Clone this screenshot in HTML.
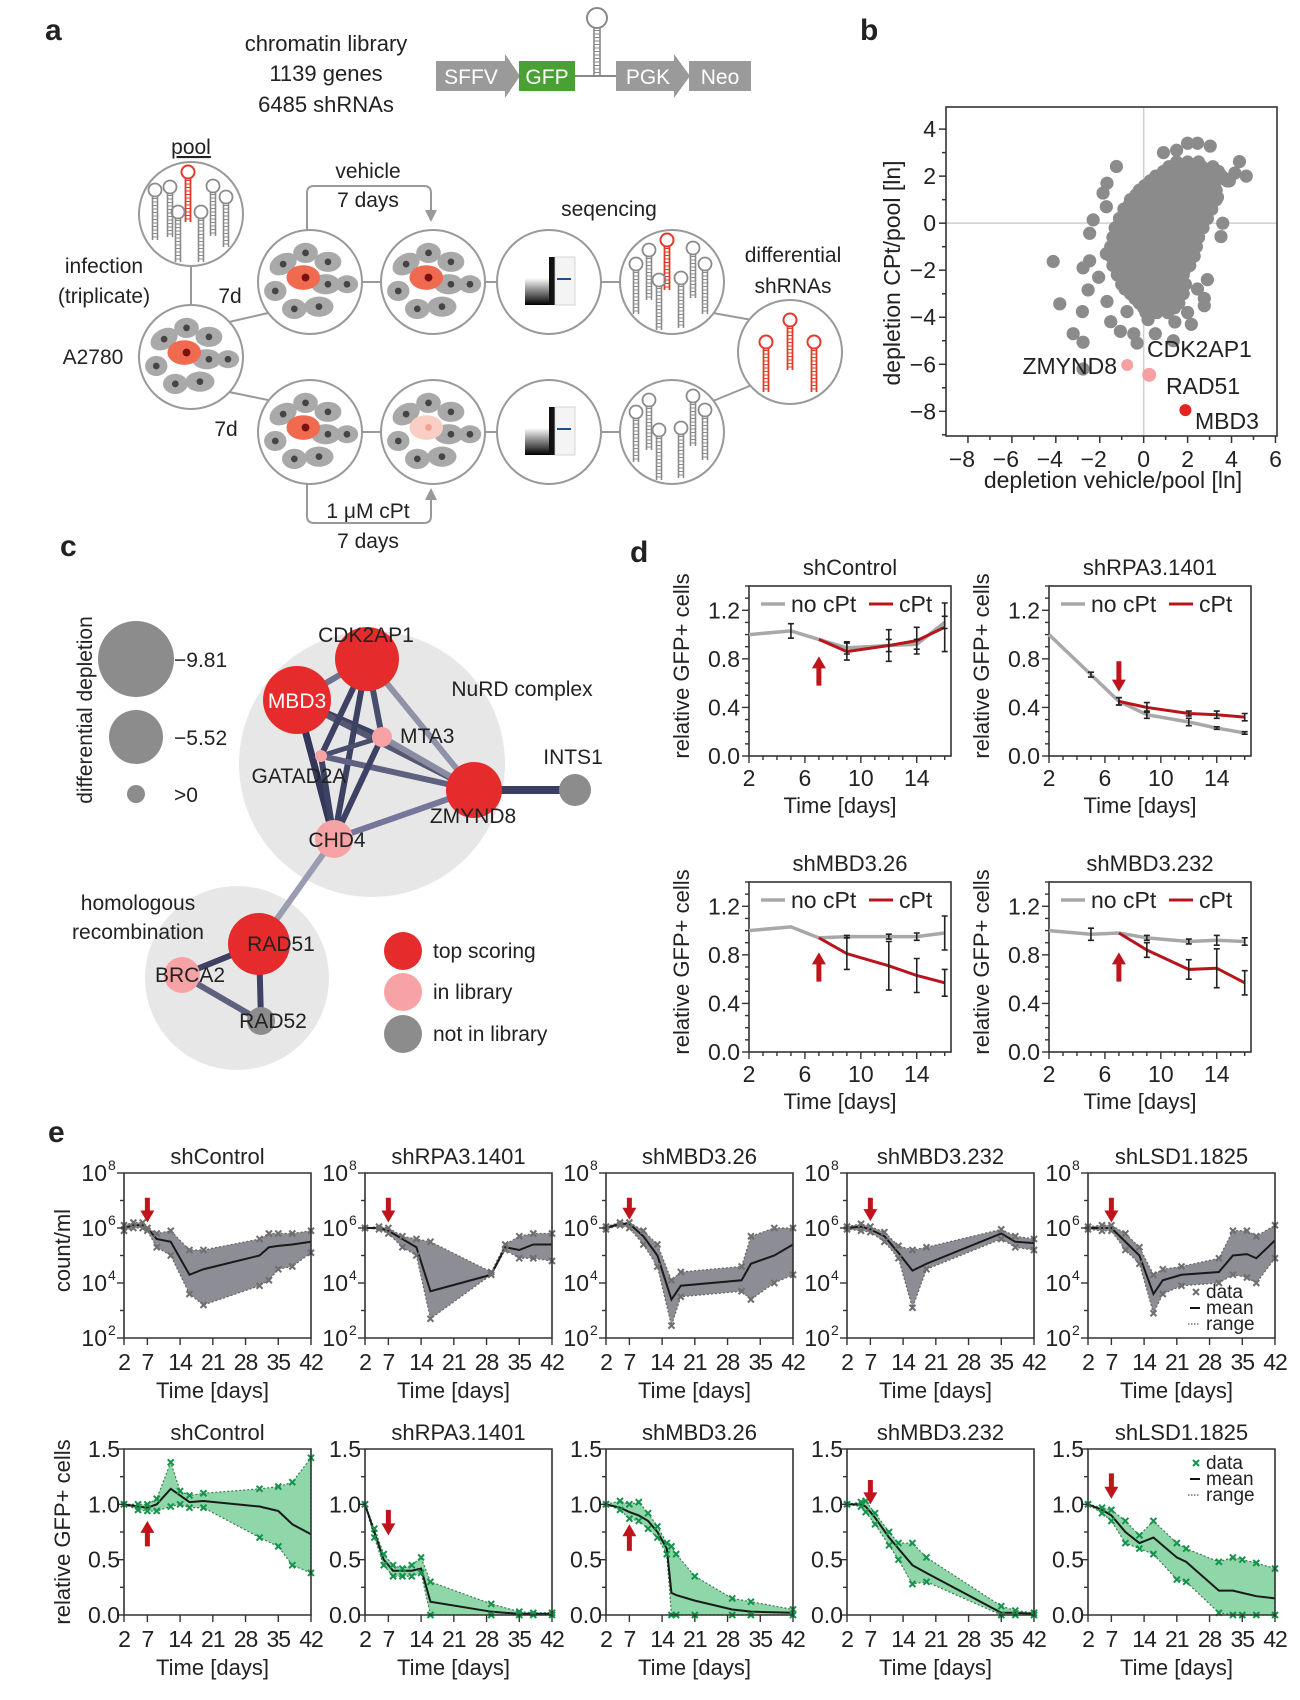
<!DOCTYPE html>
<html><head><meta charset="utf-8"><title>Figure</title>
<style>
html,body{margin:0;padding:0;background:#fff;}
svg{display:block;font-family:"Liberation Sans",Arial,sans-serif;}
text{fill:#222;}
</style></head>
<body>
<svg id="fig" xmlns="http://www.w3.org/2000/svg" width="1300" height="1700" viewBox="0 0 1300 1700">
<defs>
  <g id="cells">
    <ellipse cx="-24" cy="-16" rx="13" ry="9" fill="#a9a9a9" transform="rotate(-30 -24 -16)"/>
    <ellipse cx="-4" cy="-26" rx="11" ry="9" fill="#a9a9a9"/>
    <ellipse cx="16" cy="-18" rx="12" ry="9" fill="#a9a9a9"/>
    <ellipse cx="-31" cy="8" rx="10" ry="9" fill="#a9a9a9"/>
    <ellipse cx="14" cy="2" rx="13" ry="9" fill="#a9a9a9"/>
    <ellipse cx="33" cy="2" rx="10" ry="8" fill="#a9a9a9"/>
    <ellipse cx="-14" cy="24" rx="11" ry="9" fill="#a9a9a9"/>
    <ellipse cx="8" cy="22" rx="13" ry="9" fill="#a9a9a9"/>
    <circle cx="-24" cy="-16" r="3" fill="#444"/><circle cx="-4" cy="-26" r="3" fill="#444"/>
    <circle cx="16" cy="-18" r="3" fill="#444"/><circle cx="-31" cy="8" r="3" fill="#444"/>
    <circle cx="16" cy="2" r="3" fill="#444"/><circle cx="33" cy="2" r="3" fill="#444"/>
    <circle cx="-14" cy="24" r="3" fill="#444"/><circle cx="8" cy="22" r="3" fill="#444"/>
  </g>
  <g id="cellsred"><use href="#cells"/><ellipse cx="-6" cy="-4" rx="15" ry="11" fill="#f06a50"/><circle cx="-4" cy="-4" r="3.5" fill="#7a1010"/></g>
  <g id="cellsfade"><use href="#cells"/><ellipse cx="-6" cy="-4" rx="15" ry="11" fill="#f9cfc5"/><circle cx="-4" cy="-4" r="3" fill="#f3a090"/></g>
  <g id="hp"><circle cx="0" cy="-28" r="6.5" fill="none" stroke="#8a8a8a" stroke-width="1.8"/><path d="M-2.5 -22 V22 M2.5 -22 V22" stroke="#8a8a8a" stroke-width="1.6"/><line x1="0" y1="-20" x2="0" y2="22" stroke="#8a8a8a" stroke-width="5" stroke-dasharray="1 2.5"/></g>
  <g id="hpr"><circle cx="0" cy="-28" r="6.5" fill="none" stroke="#e03a2c" stroke-width="2"/><path d="M-2.5 -22 V22 M2.5 -22 V22" stroke="#e03a2c" stroke-width="1.8"/><line x1="0" y1="-20" x2="0" y2="22" stroke="#e03a2c" stroke-width="5" stroke-dasharray="1 2.5"/></g>
  <linearGradient id="seqg" x1="0" y1="0" x2="0" y2="1"><stop offset="0" stop-color="#fff"/><stop offset="1" stop-color="#000"/></linearGradient>
  <g id="seq">
    <rect x="-26" y="-25" width="52" height="48" fill="#fff"/>
    <rect x="-24" y="-4" width="26" height="27" fill="url(#seqg)"/>
    <rect x="0" y="-25" width="6" height="48" fill="#111"/>
    <rect x="6" y="-25" width="20" height="48" fill="#f4f4f4" stroke="#ccc" stroke-width="0.8"/>
    <line x1="8" y1="-3" x2="22" y2="-3" stroke="#1b4f8a" stroke-width="2"/>
  </g>
</defs>

<!-- ============ PANEL A ============ -->
<g>
  <text x="45" y="40" font-size="30" font-weight="bold">a</text>
  <text x="326" y="51" font-size="22" text-anchor="middle">chromatin library</text>
  <text x="326" y="81" font-size="22" text-anchor="middle">1139 genes</text>
  <text x="326" y="112" font-size="22" text-anchor="middle">6485 shRNAs</text>
  <g>
    <path d="M436 61 H505 V54 L520 76 L505 98 V91 H436 Z" fill="#9a9a9a"/>
    <text x="471" y="84" font-size="21" text-anchor="middle" style="fill:#fff">SFFV</text>
    <rect x="519" y="61" width="56" height="30" fill="#4aa133"/>
    <text x="547" y="84" font-size="21" text-anchor="middle" style="fill:#fff">GFP</text>
    <line x1="575" y1="76" x2="616" y2="76" stroke="#888" stroke-width="2"/>
    <g transform="translate(597 52)"><circle cx="0" cy="-34" r="10" fill="none" stroke="#888" stroke-width="2"/><path d="M-3 -24 V24 M3 -24 V24" stroke="#888" stroke-width="1.6"/><line x1="0" y1="-22" x2="0" y2="24" stroke="#888" stroke-width="6" stroke-dasharray="1 2.5"/></g>
    <path d="M616 61 H674 V54 L690 76 L674 98 V91 H616 Z" fill="#9a9a9a"/>
    <text x="648" y="84" font-size="21" text-anchor="middle" style="fill:#fff">PGK</text>
    <rect x="689" y="61" width="62" height="30" fill="#9a9a9a"/>
    <text x="720" y="84" font-size="21" text-anchor="middle" style="fill:#fff">Neo</text>
  </g>
  <g stroke="#999" stroke-width="2" fill="none">
    <line x1="191" y1="267" x2="191" y2="305"/>
    <line x1="229" y1="322" x2="268" y2="313"/>
    <line x1="229" y1="392" x2="268" y2="400"/>
    <line x1="362" y1="282" x2="381" y2="282"/><line x1="485" y1="282" x2="497" y2="282"/><line x1="601" y1="282" x2="620" y2="282"/>
    <line x1="362" y1="432" x2="381" y2="432"/><line x1="485" y1="432" x2="497" y2="432"/><line x1="601" y1="432" x2="620" y2="432"/>
    <line x1="713" y1="313" x2="752" y2="320"/>
    <line x1="713" y1="401" x2="752" y2="385"/>
    <path d="M307 230 V193 Q307 186 314 186 H424 Q431 186 431 193 V212"/>
    <path d="M307 484 V516 Q307 523 314 523 H424 Q431 523 431 516 V498"/>
  </g>
  <path d="M425 210 L437 210 L431 222 Z" fill="#999"/>
  <path d="M425 500 L437 500 L431 488 Z" fill="#999"/>
  <g fill="#fff" stroke="#999" stroke-width="2">
    <circle cx="191" cy="214" r="52"/><circle cx="191" cy="357" r="52"/>
    <circle cx="310" cy="282" r="52"/><circle cx="433" cy="282" r="52"/><circle cx="549" cy="282" r="52"/><circle cx="672" cy="282" r="52"/>
    <circle cx="310" cy="432" r="52"/><circle cx="433" cy="432" r="52"/><circle cx="549" cy="432" r="52"/><circle cx="672" cy="432" r="52"/>
    <circle cx="790" cy="352" r="52"/>
  </g>
  <g>
    <use href="#hp" x="155" y="218"/><use href="#hp" x="170" y="215"/><use href="#hpr" x="188" y="200"/><use href="#hp" x="178" y="240"/><use href="#hp" x="201" y="240"/><use href="#hp" x="213" y="214"/><use href="#hp" x="226" y="225"/>
  </g>
  <use href="#cellsred" transform="translate(191 357) scale(1.12)"/>
  <use href="#cellsred" transform="translate(310 282) scale(1.12)"/>
  <use href="#cellsred" transform="translate(433 282) scale(1.12)"/>
  <use href="#cellsred" transform="translate(310 432) scale(1.12)"/>
  <use href="#cellsfade" transform="translate(433 432) scale(1.12)"/>
  <use href="#seq" x="549" y="282"/>
  <use href="#seq" x="549" y="432"/>
  <g>
    <use href="#hp" x="636" y="292"/><use href="#hp" x="649" y="278"/><use href="#hpr" x="667" y="268"/><use href="#hp" x="659" y="308"/><use href="#hp" x="681" y="306"/><use href="#hp" x="693" y="276"/><use href="#hp" x="705" y="292"/>
  </g>
  <g>
    <use href="#hp" x="636" y="440"/><use href="#hp" x="649" y="428"/><use href="#hp" x="693" y="424"/><use href="#hp" x="659" y="458"/><use href="#hp" x="681" y="456"/><use href="#hp" x="705" y="438"/>
  </g>
  <g>
    <use href="#hpr" x="766" y="370"/><use href="#hpr" x="790" y="348"/><use href="#hpr" x="814" y="370"/>
  </g>
  <text x="191" y="154" font-size="21" text-anchor="middle" text-decoration="underline">pool</text>
  <text x="104" y="273" font-size="21" text-anchor="middle">infection</text>
  <text x="104" y="303" font-size="21" text-anchor="middle">(triplicate)</text>
  <text x="93" y="364" font-size="21" text-anchor="middle">A2780</text>
  <text x="230" y="303" font-size="21" text-anchor="middle">7d</text>
  <text x="226" y="436" font-size="21" text-anchor="middle">7d</text>
  <text x="368" y="178" font-size="21" text-anchor="middle">vehicle</text>
  <text x="368" y="207" font-size="21" text-anchor="middle">7 days</text>
  <text x="609" y="216" font-size="21" text-anchor="middle">seqencing</text>
  <text x="793" y="262" font-size="21" text-anchor="middle">differential</text>
  <text x="793" y="293" font-size="21" text-anchor="middle">shRNAs</text>
  <text x="368" y="518" font-size="21" text-anchor="middle">1 μM cPt</text>
  <text x="368" y="548" font-size="21" text-anchor="middle">7 days</text>
</g>

<!-- ============ PANEL C ============ -->
<g>
  <text x="60" y="556" font-size="30" font-weight="bold">c</text>
  <circle cx="372" cy="764" r="133" fill="#e8e7e7"/>
  <circle cx="237" cy="978" r="92" fill="#e8e7e7"/>
  <g stroke-linecap="round">
    <line x1="297" y1="700" x2="367" y2="659" stroke="#6e7190" stroke-width="6"/>
    <line x1="297" y1="700" x2="334" y2="839" stroke="#33375a" stroke-width="7"/>
    <line x1="297" y1="700" x2="382" y2="737" stroke="#3d4163" stroke-width="6"/>
    <line x1="297" y1="700" x2="474" y2="790" stroke="#555873" stroke-width="6"/>
    <line x1="367" y1="659" x2="334" y2="839" stroke="#3d4163" stroke-width="6"/>
    <line x1="367" y1="659" x2="321" y2="756" stroke="#3d4163" stroke-width="6"/>
    <line x1="367" y1="659" x2="382" y2="737" stroke="#4a4e6d" stroke-width="6"/>
    <line x1="367" y1="659" x2="474" y2="790" stroke="#9092a8" stroke-width="6"/>
    <line x1="321" y1="756" x2="382" y2="737" stroke="#4a4e6d" stroke-width="5"/>
    <line x1="321" y1="756" x2="474" y2="790" stroke="#5e6180" stroke-width="6"/>
    <line x1="382" y1="737" x2="474" y2="790" stroke="#8a8ca3" stroke-width="6"/>
    <line x1="382" y1="737" x2="334" y2="839" stroke="#3d4163" stroke-width="6"/>
    <line x1="321" y1="756" x2="334" y2="839" stroke="#3d4163" stroke-width="6"/>
    <line x1="474" y1="790" x2="334" y2="839" stroke="#74779a" stroke-width="6"/>
    <line x1="474" y1="790" x2="575" y2="790" stroke="#3a3e60" stroke-width="8"/>
    <line x1="334" y1="839" x2="259" y2="944" stroke="#9a9cb2" stroke-width="6"/>
    <line x1="259" y1="944" x2="182" y2="975" stroke="#3d4163" stroke-width="6"/>
    <line x1="259" y1="944" x2="261" y2="1021" stroke="#3d4163" stroke-width="6"/>
    <line x1="182" y1="975" x2="261" y2="1021" stroke="#5e6180" stroke-width="6"/>
  </g>
  <circle cx="367" cy="659" r="32" fill="#e52b2b"/>
  <circle cx="297" cy="700" r="34" fill="#e52b2b"/>
  <circle cx="382" cy="737" r="10" fill="#f7a3a6"/>
  <circle cx="321" cy="756" r="6" fill="#f7a3a6"/>
  <circle cx="474" cy="790" r="28" fill="#e52b2b"/>
  <circle cx="575" cy="790" r="16" fill="#8c8c8c"/>
  <circle cx="334" cy="839" r="19" fill="#f7a3a6"/>
  <circle cx="259" cy="944" r="31" fill="#e52b2b"/>
  <circle cx="182" cy="975" r="18" fill="#f7a3a6"/>
  <circle cx="261" cy="1021" r="14" fill="#8c8c8c"/>
  <g font-size="21">
    <text x="366" y="642" text-anchor="middle">CDK2AP1</text>
    <text x="297" y="708" text-anchor="middle" style="fill:#fff">MBD3</text>
    <text x="400" y="743">MTA3</text>
    <text x="299" y="783" text-anchor="middle">GATAD2A</text>
    <text x="473" y="823" text-anchor="middle">ZMYND8</text>
    <text x="573" y="764" text-anchor="middle">INTS1</text>
    <text x="337" y="847" text-anchor="middle">CHD4</text>
    <text x="522" y="696" text-anchor="middle">NuRD complex</text>
    <text x="138" y="910" text-anchor="middle">homologous</text>
    <text x="138" y="939" text-anchor="middle">recombination</text>
    <text x="281" y="951" text-anchor="middle">RAD51</text>
    <text x="190" y="982" text-anchor="middle">BRCA2</text>
    <text x="273" y="1028" text-anchor="middle">RAD52</text>
  </g>
  <g>
    <text transform="translate(92 710) rotate(-90)" font-size="21" text-anchor="middle">differential depletion</text>
    <circle cx="136" cy="659" r="38" fill="#8c8c8c"/><text x="174" y="667" font-size="21">−9.81</text>
    <circle cx="136" cy="737" r="27" fill="#8c8c8c"/><text x="174" y="745" font-size="21">−5.52</text>
    <circle cx="136" cy="794" r="9" fill="#8c8c8c"/><text x="174" y="802" font-size="21">&gt;0</text>
  </g>
  <g>
    <circle cx="403" cy="951" r="19" fill="#e52b2b"/><text x="433" y="958" font-size="21">top scoring</text>
    <circle cx="403" cy="992" r="19" fill="#f7a3a6"/><text x="433" y="999" font-size="21">in library</text>
    <circle cx="403" cy="1034" r="19" fill="#8c8c8c"/><text x="433" y="1041" font-size="21">not in library</text>
  </g>
</g>

<text x="860" y="40" font-size="30" font-weight="bold">b</text>
<text x="630" y="562" font-size="30" font-weight="bold">d</text>
<text x="48" y="1142" font-size="30" font-weight="bold">e</text>
<g id="charts"></g>
</svg>

<script>
// ---------- Panel b data ----------
const scatterX = [
1.5,2.0,2.5,
0.9,1.4,1.9,2.4,2.9,3.4,
0.3,0.8,1.3,1.8,2.3,2.8,3.3,3.8,
-0.2,0.3,0.8,1.3,1.8,2.3,2.8,3.3,
-0.6,-0.1,0.4,0.9,1.4,1.9,2.4,2.9,3.3,
-0.9,-0.4,0.1,0.6,1.1,1.6,2.1,2.6,3.1,
-1.1,-0.6,-0.1,0.4,0.9,1.4,1.9,2.4,2.9,
-1.3,-0.8,-0.3,0.2,0.7,1.2,1.7,2.2,2.7,
-1.4,-0.9,-0.4,0.1,0.6,1.1,1.6,2.1,2.5,
-1.5,-1.0,-0.5,0.0,0.5,1.0,1.5,2.0,2.4,
-1.5,-1.0,-0.5,0.0,0.5,1.0,1.5,2.0,2.3,
-1.4,-0.9,-0.4,0.1,0.6,1.1,1.6,2.1,
-1.2,-0.7,-0.2,0.3,0.8,1.3,1.8,
-1.0,-0.5,0.0,0.5,1.0,1.5,1.9,
-0.6,-0.1,0.4,0.9,1.4,1.8,
-0.2,0.3,0.8,1.3,1.6,
0.1,0.6,1.1,
1.15,1.65,2.15,2.65,3.15,0.55,1.05,1.55,2.05,2.55,3.05,3.55,0.05,0.55,1.05,1.55,2.05,2.55,3.05,-0.35,0.15,0.65,1.15,1.65,2.15,2.65,3.1,
-0.65,-0.15,0.35,0.85,1.35,1.85,2.35,2.85,-0.85,-0.35,0.15,0.65,1.15,1.65,2.15,2.65,-1.05,-0.55,-0.05,0.45,0.95,1.45,1.95,2.4,
-1.2,-0.7,-0.2,0.3,0.8,1.3,1.8,2.2,-1.25,-0.75,-0.25,0.25,0.75,1.25,1.75,2.15,-1.1,-0.6,-0.1,0.4,0.9,1.4,1.85,
-0.85,-0.35,0.15,0.65,1.15,1.6,-0.4,0.1,0.6,1.1,1.55,0.0,0.5,1.0,1.4,
-1.24,-1.85,-2.3,-2.46,-4.12,-3.82,-3.21,-2.76,-2.79,-2.53,-2.76,-1.67,-1.5,-1.06,-0.76,-0.45,-0.3,0.53,1.35,1.42,2.17,2.0,2.76,2.76,3.6,3.52,4.36,4.67,4.15,3.03,2.0,2.45,3.67,3.36,-1.67,-1.7,-2.46,-2.05,-1.7,2.9,2.45,-2.76,0.9,1.5,0.2,3.9
];
const scatterY = [
2.6,2.6,2.6,
2.2,2.2,2.2,2.2,2.2,2.2,
1.8,1.8,1.8,1.8,1.8,1.8,1.8,1.8,
1.4,1.4,1.4,1.4,1.4,1.4,1.4,1.4,
1.0,1.0,1.0,1.0,1.0,1.0,1.0,1.0,1.0,
0.6,0.6,0.6,0.6,0.6,0.6,0.6,0.6,0.6,
0.2,0.2,0.2,0.2,0.2,0.2,0.2,0.2,0.2,
-0.2,-0.2,-0.2,-0.2,-0.2,-0.2,-0.2,-0.2,-0.2,
-0.6,-0.6,-0.6,-0.6,-0.6,-0.6,-0.6,-0.6,-0.6,
-1.0,-1.0,-1.0,-1.0,-1.0,-1.0,-1.0,-1.0,-1.0,
-1.4,-1.4,-1.4,-1.4,-1.4,-1.4,-1.4,-1.4,-1.4,
-1.8,-1.8,-1.8,-1.8,-1.8,-1.8,-1.8,-1.8,
-2.2,-2.2,-2.2,-2.2,-2.2,-2.2,-2.2,
-2.6,-2.6,-2.6,-2.6,-2.6,-2.6,-2.6,
-3.0,-3.0,-3.0,-3.0,-3.0,-3.0,
-3.4,-3.4,-3.4,-3.4,-3.4,
-3.8,-3.8,-3.8,
2.4,2.4,2.4,2.4,2.4,2.0,2.0,2.0,2.0,2.0,2.0,2.0,1.6,1.6,1.6,1.6,1.6,1.6,1.6,1.2,1.2,1.2,1.2,1.2,1.2,1.2,1.2,
0.8,0.8,0.8,0.8,0.8,0.8,0.8,0.8,0.4,0.4,0.4,0.4,0.4,0.4,0.4,0.4,0.0,0.0,0.0,0.0,0.0,0.0,0.0,0.0,
-0.4,-0.4,-0.4,-0.4,-0.4,-0.4,-0.4,-0.4,-1.2,-1.2,-1.2,-1.2,-1.2,-1.2,-1.2,-1.2,-2.0,-2.0,-2.0,-2.0,-2.0,-2.0,-2.0,
-2.8,-2.8,-2.8,-2.8,-2.8,-2.8,-3.2,-3.2,-3.2,-3.2,-3.2,-3.6,-3.6,-3.6,-3.6,
2.41,1.28,0.14,-0.43,-1.63,-3.43,-4.7,-5.06,-3.76,-2.84,-1.9,-3.33,-4.19,-4.6,-3.76,-4.7,-5.1,-4.7,-5.0,-4.2,-4.3,-3.8,-3.2,-3.51,0.0,-0.57,2.62,2.0,2.13,3.28,3.4,3.4,1.9,1.1,1.7,0.7,-1.6,-2.3,-1.3,-2.4,-2.8,-6.2,3.0,3.1,-4.1,1.8
];
const hiGenes = ['ZMYND8','CDK2AP1','MBD3'];
const hiX = [-0.75, 0.25, 1.9];
const hiY = [-6.03, -6.45, -7.95];
const bXTicks = [-8,-6,-4,-2,0,2,4,6];
const bYTicks = [-8,-6,-4,-2,0,2,4];

// ---------- Panel d data ----------
const dDays = [2,5,7,9,12,14,16];
const dRedDays = [7,9,12,14,16];
const dTitles = ['shControl','shRPA3.1401','shMBD3.26','shMBD3.232'];
const dGray_shControl = [1.0,1.03,0.96,0.89,0.91,0.92,1.1];
const dGrayErr_shControl = [0,0.06,0,0.05,0.05,0.04,0.05];
const dRed_shControl = [0.96,0.86,0.91,0.95,1.06];
const dRedErr_shControl = [0,0.07,0.13,0.11,0.2];
const dGray_shRPA3 = [1.0,0.67,0.45,0.34,0.28,0.23,0.19];
const dGrayErr_shRPA3 = [0,0.02,0.03,0.03,0.03,0.01,0.01];
const dRed_shRPA3 = [0.45,0.4,0.35,0.34,0.32];
const dRedErr_shRPA3 = [0.03,0.04,0.02,0.03,0.03];
const dGray_shMBD3_26 = [1.0,1.03,0.94,0.95,0.95,0.95,0.98];
const dGrayErr_shMBD3_26 = [0,0,0,0.01,0.02,0.03,0.14];
const dRed_shMBD3_26 = [0.94,0.81,0.71,0.63,0.57];
const dRedErr_shMBD3_26 = [0,0.13,0.2,0.14,0.11];
const dGray_shMBD3_232 = [1.0,0.97,0.98,0.94,0.91,0.92,0.91];
const dGrayErr_shMBD3_232 = [0,0.05,0,0.02,0.02,0.04,0.03];
const dRed_shMBD3_232 = [0.98,0.84,0.68,0.69,0.57];
const dRedErr_shMBD3_232 = [0,0.06,0.08,0.16,0.1];
const dYTicks = [0.0,0.4,0.8,1.2];
const dXTicks = [2,6,10,14];

// ---------- Panel e data ----------
const eTitles = ['shControl','shRPA3.1401','shMBD3.26','shMBD3.232','shLSD1.1825'];
const eXTicks = [2,7,14,21,28,35,42];
const eCountDays_shControl = [2,4,6,7,9,12,16,19,31,33,35,38,42];
const eCountMean_shControl = [6.0,6.1,6.1,6.0,5.6,5.5,4.3,4.5,5.0,5.3,5.35,5.4,5.5];
const eCountHi_shControl = [6.1,6.2,6.2,6.0,5.8,5.9,5.2,5.2,5.6,5.8,5.8,5.8,5.9];
const eCountLo_shControl = [5.9,6.0,6.0,5.9,5.3,5.0,3.6,3.2,3.9,4.1,4.5,4.6,5.1];
const eCountDays_shRPA3 = [2,5,7,10,13,16,29,32,35,38,42];
const eCountMean_shRPA3 = [6.0,6.0,5.9,5.6,5.3,3.7,4.3,5.3,5.2,5.4,5.4];
const eCountHi_shRPA3 = [6.0,6.05,6.0,5.7,5.6,5.5,4.4,5.4,5.7,5.8,5.8];
const eCountLo_shRPA3 = [6.0,5.95,5.8,5.3,5.0,2.7,4.3,5.2,4.9,4.9,4.8];
const eCountDays_shMBD3_26 = [2,5,7,10,13,16,18,31,33,38,42];
const eCountMean_shMBD3_26 = [6.0,6.15,6.15,5.7,5.0,3.4,3.9,4.1,4.7,5.0,5.4];
const eCountHi_shMBD3_26 = [6.05,6.2,6.2,5.9,5.4,4.1,4.4,4.6,5.7,6.0,6.0];
const eCountLo_shMBD3_26 = [5.95,6.1,6.0,5.4,4.6,2.45,3.5,3.7,3.4,4.0,4.3];
const eCountDays_shMBD3_232 = [2,5,7,10,13,16,19,35,38,42];
const eCountMean_shMBD3_232 = [6.0,6.05,5.95,5.7,5.1,4.45,4.7,5.8,5.5,5.45];
const eCountHi_shMBD3_232 = [6.05,6.15,6.05,5.85,5.35,5.2,5.3,5.95,5.7,5.6];
const eCountLo_shMBD3_232 = [5.95,5.9,5.85,5.5,4.9,3.1,4.5,5.6,5.3,5.2];
const eCountDays_shLSD1 = [2,5,7,10,13,16,18,22,30,33,36,38,42];
const eCountMean_shLSD1 = [6.0,6.0,6.0,5.5,5.0,3.6,4.1,4.3,4.4,5.0,5.05,4.9,5.55];
const eCountHi_shLSD1 = [6.05,6.1,6.1,5.8,5.3,4.3,4.5,4.6,4.9,5.9,5.9,5.7,6.1];
const eCountLo_shLSD1 = [5.95,5.9,5.9,5.2,4.7,2.9,3.6,3.9,4.0,4.3,4.2,4.0,4.9];
const eGfpDays_shControl = [2,5,7,9,12,14,16,19,31,35,38,42];
const eGfpMean_shControl = [1.0,0.98,0.97,1.0,1.14,1.08,1.02,1.03,0.98,0.94,0.82,0.73];
const eGfpHi_shControl = [1.0,1.0,1.0,1.05,1.38,1.12,1.08,1.1,1.14,1.16,1.2,1.42];
const eGfpLo_shControl = [1.0,0.95,0.94,0.94,0.98,1.0,0.97,0.97,0.7,0.62,0.45,0.38];
const eGfpDays_shRPA3 = [2,4,6,8,10,12,14,16,29,35,38,42];
const eGfpMean_shRPA3 = [1.0,0.75,0.5,0.4,0.4,0.4,0.42,0.12,0.03,0.01,0.01,0.01];
const eGfpHi_shRPA3 = [1.0,0.78,0.55,0.45,0.42,0.45,0.52,0.3,0.1,0.03,0.02,0.02];
const eGfpLo_shRPA3 = [1.0,0.7,0.45,0.35,0.35,0.35,0.38,0.0,0.0,0.0,0.0,0.0];
const eGfpDays_shMBD3_26 = [2,5,7,9,11,13,15,16,17,21,29,33,42];
const eGfpMean_shMBD3_26 = [1.0,0.97,0.93,0.9,0.85,0.75,0.6,0.2,0.18,0.13,0.05,0.03,0.02];
const eGfpHi_shMBD3_26 = [1.0,1.03,1.0,1.02,0.92,0.8,0.65,0.62,0.55,0.35,0.15,0.12,0.05];
const eGfpLo_shMBD3_26 = [1.0,0.95,0.87,0.85,0.78,0.7,0.55,0.0,0.0,0.0,0.0,0.0,0.0];
const eGfpDays_shMBD3_232 = [2,5,6,8,11,13,16,19,35,38,42];
const eGfpMean_shMBD3_232 = [1.0,1.0,0.98,0.88,0.7,0.6,0.45,0.38,0.02,0.02,0.01];
const eGfpHi_shMBD3_232 = [1.0,1.02,1.03,0.92,0.75,0.65,0.65,0.52,0.08,0.04,0.02];
const eGfpLo_shMBD3_232 = [1.0,0.98,0.93,0.82,0.63,0.5,0.28,0.3,0.0,0.0,0.0];
const eGfpDays_shLSD1 = [2,5,7,10,13,16,21,23,30,33,35,38,42];
const eGfpMean_shLSD1 = [1.0,0.95,0.9,0.75,0.65,0.7,0.52,0.48,0.22,0.22,0.2,0.17,0.15];
const eGfpHi_shLSD1 = [1.0,0.97,0.95,0.85,0.72,0.85,0.65,0.6,0.48,0.52,0.5,0.47,0.42];
const eGfpLo_shLSD1 = [1.0,0.92,0.85,0.65,0.6,0.55,0.32,0.3,0.02,0.0,0.0,0.0,0.0];

// ---------- helpers ----------
const NS = 'http://www.w3.org/2000/svg';
const root = document.getElementById('charts');
function mk(tag, attrs, parent) {
  const el = document.createElementNS(NS, tag);
  for (const k in attrs) el.setAttribute(k, attrs[k]);
  (parent || root).appendChild(el);
  return el;
}
function tx(str, attrs, parent) {
  const t = mk('text', attrs, parent);
  t.textContent = str;
  return t;
}
function fmtNeg(v) { return v < 0 ? '\u2212' + Math.abs(v) : String(v); }
function arrow(g, x, yTail, yTip) {
  const dir = yTip > yTail ? 1 : -1;
  const hl = 12 * dir;
  const d = `M${x-2.5} ${yTail} L${x-2.5} ${yTip-hl} L${x-7} ${yTip-hl} L${x} ${yTip} L${x+7} ${yTip-hl} L${x+2.5} ${yTip-hl} L${x+2.5} ${yTail} Z`;
  const a = mk('path', {d: d, fill: '#c0141c'}, g);
  
  
}

// ---------- Panel b ----------
(function () {
  const L = 946, R = 1277, T = 107, B = 436;
  const xs = v => L + (v - (-9)) / (6.07 - (-9)) * (R - L);
  const ys = v => B - (v - (-9.05)) / (4.94 - (-9.05)) * (B - T);
  const g = mk('g', {});
  
  
  const gx = mk('line', {x1: xs(0), x2: xs(0), y1: T, y2: B, stroke: '#cfcfcf', 'stroke-width': 1.5}, g);
  
  
  const gy = mk('line', {x1: L, x2: R, y1: ys(0), y2: ys(0), stroke: '#cfcfcf', 'stroke-width': 1.5}, g);
  
  
  for (let i = 0; i < scatterX.length; i++) {
    const c = mk('circle', {cx: xs(scatterX[i]), cy: ys(scatterY[i]), r: 6.6, fill: '#8b8b8b'}, g);
    
    
  }
  const hiCol = ['#f6a0a4', '#f6a0a4', '#e32424'];
  const hiR = [6, 7, 6];
  for (let i = 0; i < hiX.length; i++) {
    const c = mk('circle', {cx: xs(hiX[i]), cy: ys(hiY[i]), r: hiR[i], fill: hiCol[i]}, g);
    
    
  }
  const labs = [['ZMYND8', 1117, 374, 'end'], ['CDK2AP1', 1147, 357, 'start'], ['RAD51', 1166, 394, 'start'], ['MBD3', 1195, 429, 'start']];
  labs.forEach(l => {
    const t = tx(l[0], {x: l[1], y: l[2], 'font-size': 23, 'text-anchor': l[3]}, g);
    
    
  });
  const fr = mk('rect', {x: L, y: T, width: R - L, height: B - T, fill: 'none', stroke: '#333', 'stroke-width': 1.6}, g);
  
  
  for (let v = -9; v <= 4; v++) {
    const major = bYTicks.includes(v);
    const tk = mk('line', {x1: L - (major ? 7 : 4), x2: L, y1: ys(v), y2: ys(v), stroke: '#333', 'stroke-width': 1.5}, g);
    
    
  }
  bYTicks.forEach(v => {
    const t = tx(fmtNeg(v), {x: L - 10, y: ys(v) + 8, 'font-size': 23, 'text-anchor': 'end'}, g);
    
    
  });
  for (let v = -8; v <= 6; v++) {
    const major = bXTicks.includes(v);
    const tk = mk('line', {x1: xs(v), x2: xs(v), y1: B, y2: B + (major ? 7 : 4), stroke: '#333', 'stroke-width': 1.5}, g);
    
    
  }
  bXTicks.forEach(v => {
    const t = tx(fmtNeg(v), {x: xs(v) - (v < 0 ? 6 : 0), y: B + 31, 'font-size': 23, 'text-anchor': 'middle'}, g);
    
    
  });
  const xt = tx('depletion vehicle/pool [ln]', {x: 1113, y: 488, 'font-size': 23, 'text-anchor': 'middle'}, g);
  
  
  const yt = tx('depletion CPt/pool [ln]', {transform: 'translate(900 273) rotate(-90)', 'font-size': 23, 'text-anchor': 'middle'}, g);
  
  
})();

// ---------- Panel d ----------
function drawD(left, top, title, gray, grayErr, red, redErr, arrowUp) {
  const W = 202, H = 170, B = top + H;
  const xs = d => left + (d - 2) / (16.45 - 2) * W;
  const ys = v => B - v / 1.4 * H;
  const g = mk('g', {});
  
  
  const fr = mk('rect', {x: left, y: top, width: W, height: H, fill: 'none', stroke: '#333', 'stroke-width': 1.6}, g);
  
  
  for (let i = 0; i <= 14; i++) {
    const v = i / 10;
    const major = i % 4 === 0;
    const tk = mk('line', {x1: left - (major ? 7 : 4), x2: left, y1: ys(v), y2: ys(v), stroke: '#333', 'stroke-width': 1.4}, g);
    
    
  }
  dYTicks.forEach(v => {
    const t = tx(v.toFixed(1), {x: left - 9, y: ys(v) + 8, 'font-size': 23, 'text-anchor': 'end'}, g);
    
    
  });
  for (let d = 2; d <= 16; d++) {
    const major = (d - 2) % 4 === 0;
    const tk = mk('line', {x1: xs(d), x2: xs(d), y1: B, y2: B + (major ? 7 : 4), stroke: '#333', 'stroke-width': 1.4}, g);
    
    
  }
  dXTicks.forEach(d => {
    const t = tx(String(d), {x: xs(d), y: B + 30, 'font-size': 23, 'text-anchor': 'middle'}, g);
    
    
  });
  const tt = tx(title, {x: left + W / 2, y: top - 11, 'font-size': 22, 'text-anchor': 'middle'}, g);
  
  
  const xl = tx('Time [days]', {x: left + W / 2 - 10, y: B + 57, 'font-size': 22, 'text-anchor': 'middle'}, g);
  
  
  const yl = tx('relative GFP+ cells', {transform: `translate(${left - 60} ${top + 80}) rotate(-90)`, 'font-size': 22, 'text-anchor': 'middle'}, g);
  
  
  function errs(days, vals, es) {
    days.forEach((d, i) => {
      if (es[i] <= 0) return;
      const x = xs(d), y1 = ys(vals[i] - es[i]), y2 = ys(vals[i] + es[i]);
      const e = mk('path', {d: `M${x} ${y1} V${y2} M${x-3} ${y1} H${x+3} M${x-3} ${y2} H${x+3}`, stroke: '#222', 'stroke-width': 1.6, fill: 'none'}, g);
      
      
    });
  }
  const gp = mk('polyline', {points: dDays.map((d, i) => xs(d) + ',' + ys(gray[i])).join(' '), fill: 'none', stroke: '#a8a8a8', 'stroke-width': 3.5}, g);
  
  
  const rp = mk('polyline', {points: dRedDays.map((d, i) => xs(d) + ',' + ys(red[i])).join(' '), fill: 'none', stroke: '#b8141c', 'stroke-width': 3}, g);
  
  
  errs(dDays, gray, grayErr);
  errs(dRedDays, red, redErr);
  const lg = mk('line', {x1: left + 12, x2: left + 36, y1: top + 18, y2: top + 18, stroke: '#a8a8a8', 'stroke-width': 3.5}, g);
  
  
  const lt = tx('no cPt', {x: left + 42, y: top + 26, 'font-size': 23}, g);
  
  
  const lr = mk('line', {x1: left + 120, x2: left + 144, y1: top + 18, y2: top + 18, stroke: '#b8141c', 'stroke-width': 3}, g);
  
  
  const ltr = tx('cPt', {x: left + 150, y: top + 26, 'font-size': 23}, g);
  
  
  if (arrowUp) arrow(g, xs(7), ys(0.58), ys(0.82));
  else arrow(g, xs(7), ys(0.78), ys(0.53));
}
drawD(749, 586, dTitles[0], dGray_shControl, dGrayErr_shControl, dRed_shControl, dRedErr_shControl, true);
drawD(1049, 586, dTitles[1], dGray_shRPA3, dGrayErr_shRPA3, dRed_shRPA3, dRedErr_shRPA3, false);
drawD(749, 882, dTitles[2], dGray_shMBD3_26, dGrayErr_shMBD3_26, dRed_shMBD3_26, dRedErr_shMBD3_26, true);
drawD(1049, 882, dTitles[3], dGray_shMBD3_232, dGrayErr_shMBD3_232, dRed_shMBD3_232, dRedErr_shMBD3_232, true);

// ---------- Panel e ----------
function drawE(left, top, H, title, days, mean, hi, lo, isLog, arrowSpec, showYLabel) {
  const W = 187, B = top + H;
  const xs = d => left + (d - 2) / 40 * W;
  const ys = isLog ? (v => B - (v - 2) / 6 * H) : (v => B - v / 1.5 * H);
  const g = mk('g', {});
  
  
  const fillCol = isLog ? '#8d8d95' : '#8fd6a8';
  const edgeCol = isLog ? '#666' : '#3d7a52';
  const markCol = isLog ? '#6f6f6f' : '#13934a';
  const pts = days.map((d, i) => xs(d) + ',' + ys(hi[i])).concat(days.slice().reverse().map((d, j) => xs(d) + ',' + ys(lo[days.length - 1 - j])));
  const area = mk('polygon', {points: pts.join(' '), fill: fillCol, stroke: edgeCol, 'stroke-width': 1.2, 'stroke-dasharray': '2 2'}, g);
  
  
  const ml = mk('polyline', {points: days.map((d, i) => xs(d) + ',' + ys(mean[i])).join(' '), fill: 'none', stroke: '#1a1a1a', 'stroke-width': 2}, g);
  
  
  days.forEach((d, i) => {
    [hi[i], lo[i]].forEach(v => {
      const x = xs(d), y = ys(v);
      const m = mk('path', {d: `M${x-3} ${y-3} L${x+3} ${y+3} M${x-3} ${y+3} L${x+3} ${y-3}`, stroke: markCol, 'stroke-width': 2}, g);
      
      
    });
  });
  const fr = mk('path', {d: `M${left} ${top} H${left+W} V${B} H${left} Z`, fill: 'none', stroke: '#333', 'stroke-width': 1.6}, g);
  
  
  const yTicksMinor = isLog ? [2,3,4,5,6,7,8] : [0,0.25,0.5,0.75,1.0,1.25,1.5];
  yTicksMinor.forEach((v, i) => {
    const major = i % 2 === 0;
    const tk = mk('line', {x1: left - (major ? 7 : 4), x2: left, y1: ys(v), y2: ys(v), stroke: '#333', 'stroke-width': 1.4}, g);
    
    
  });
  if (isLog) {
    [2,4,6,8].forEach(v => {
      const t = tx('10', {x: left - 17, y: ys(v) + 8, 'font-size': 23, 'text-anchor': 'end'}, g);
      
      
      const s = tx(String(v), {x: left - 16, y: ys(v) - 3, 'font-size': 14}, g);
      
      
    });
  } else {
    [0,0.5,1.0,1.5].forEach(v => {
      const t = tx(v.toFixed(1), {x: left - 4, y: ys(v) + 8, 'font-size': 23, 'text-anchor': 'end'}, g);
      
      
    });
  }
  eXTicks.forEach(d => {
    const tk = mk('line', {x1: xs(d), x2: xs(d), y1: B, y2: B + 7, stroke: '#333', 'stroke-width': 1.4}, g);
    
    
    const t = tx(String(d), {x: xs(d), y: B + 32, 'font-size': 23, 'text-anchor': 'middle', 'letter-spacing': '-1'}, g);
    
    
  });
  const tt = tx(title, {x: left + W / 2, y: top - 9, 'font-size': 22, 'text-anchor': 'middle'}, g);
  
  
  const xl = tx('Time [days]', {x: left + W / 2 - 5, y: B + 60, 'font-size': 22, 'text-anchor': 'middle'}, g);
  
  
  if (showYLabel) {
    const yl = tx(isLog ? 'count/ml' : 'relative GFP+ cells', {transform: `translate(70 ${top + H / 2 - (isLog ? 5 : 0)}) rotate(-90)`, 'font-size': 22, 'text-anchor': 'middle'}, g);
    
    
  }
  arrow(g, xs(7), ys(arrowSpec[0]), ys(arrowSpec[1]));
}
const eLefts = [124, 365, 606, 847, 1088];
const eRow1 = [
  [eCountDays_shControl, eCountMean_shControl, eCountHi_shControl, eCountLo_shControl],
  [eCountDays_shRPA3, eCountMean_shRPA3, eCountHi_shRPA3, eCountLo_shRPA3],
  [eCountDays_shMBD3_26, eCountMean_shMBD3_26, eCountHi_shMBD3_26, eCountLo_shMBD3_26],
  [eCountDays_shMBD3_232, eCountMean_shMBD3_232, eCountHi_shMBD3_232, eCountLo_shMBD3_232],
  [eCountDays_shLSD1, eCountMean_shLSD1, eCountHi_shLSD1, eCountLo_shLSD1]
];
const eRow2 = [
  [eGfpDays_shControl, eGfpMean_shControl, eGfpHi_shControl, eGfpLo_shControl],
  [eGfpDays_shRPA3, eGfpMean_shRPA3, eGfpHi_shRPA3, eGfpLo_shRPA3],
  [eGfpDays_shMBD3_26, eGfpMean_shMBD3_26, eGfpHi_shMBD3_26, eGfpLo_shMBD3_26],
  [eGfpDays_shMBD3_232, eGfpMean_shMBD3_232, eGfpHi_shMBD3_232, eGfpLo_shMBD3_232],
  [eGfpDays_shLSD1, eGfpMean_shLSD1, eGfpHi_shLSD1, eGfpLo_shLSD1]
];
const eArrow1 = [[7.1, 6.2], [7.1, 6.2], [7.1, 6.3], [7.1, 6.25], [7.1, 6.2]];
const eArrow2 = [[0.62, 0.85], [0.95, 0.72], [0.58, 0.82], [1.22, 1.0], [1.28, 1.05]];
eLefts.forEach((lx, i) => {
  const r1 = eRow1[i];
  drawE(lx, 1173, 165, eTitles[i], r1[0], r1[1], r1[2], r1[3], true, eArrow1[i], i === 0);
  const r2 = eRow2[i];
  drawE(lx, 1449, 166, eTitles[i], r2[0], r2[1], r2[2], r2[3], false, eArrow2[i], i === 0);
});
function eLegend(x, y, col) {
  const g = mk('g', {});
  
  
  const m = mk('path', {d: `M${x-3} ${y-3} L${x+3} ${y+3} M${x-3} ${y+3} L${x+3} ${y-3}`, stroke: col, 'stroke-width': 2}, g);
  
  
  const t1 = tx('data', {x: x + 10, y: y + 6, 'font-size': 19}, g);
  
  
  const l2 = mk('line', {x1: x - 6, x2: x + 4, y1: y + 16, y2: y + 16, stroke: '#111', 'stroke-width': 2}, g);
  
  
  const t2 = tx('mean', {x: x + 10, y: y + 22, 'font-size': 19}, g);
  
  
  const l3 = mk('line', {x1: x - 8, x2: x + 4, y1: y + 32, y2: y + 32, stroke: '#555', 'stroke-width': 1.2, 'stroke-dasharray': '1.5 1.5'}, g);
  
  
  const t3 = tx('range', {x: x + 10, y: y + 38, 'font-size': 19}, g);
  
  
}
eLegend(1196, 1292, '#6f6f6f');
eLegend(1196, 1463, '#13934a');
</script>
</body></html>
